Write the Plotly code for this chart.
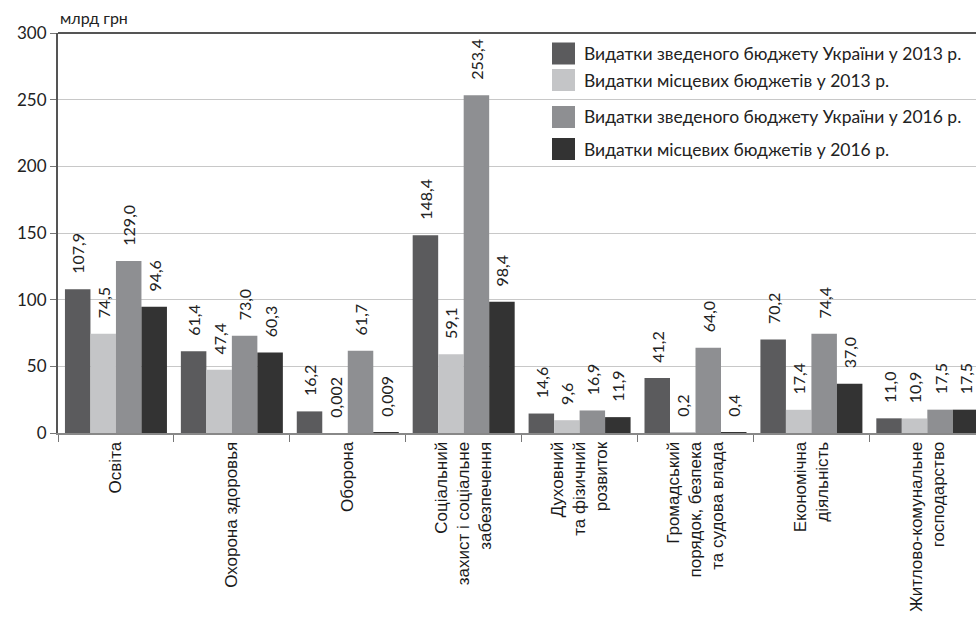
import plotly.graph_objects as go

categories = [
    "Освіта",
    "Охорона здоровья",
    "Оборона",
    "Соціальний<br>захист і соціальне<br>забезпечення",
    "Духовний<br>та фізичний<br>розвиток",
    "Громадський<br>порядок, безпека<br>та судова влада",
    "Економічна<br>діяльність",
    "Житлово-комунальне<br>господарство",
]

series_names = [
    "Видатки зведеного бюджету України у 2013 р.",
    "Видатки місцевих бюджетів у 2013 р.",
    "Видатки зведеного бюджету України у 2016 р.",
    "Видатки місцевих бюджетів у 2016 р.",
]

consolidated_2013 = [107.9, 61.4, 16.2, 148.4, 14.6, 41.2, 70.2, 11.0]
local_2013 = [74.5, 47.4, 0.002, 59.1, 9.6, 0.2, 17.4, 10.9]
consolidated_2016 = [129.0, 73.0, 61.7, 253.4, 16.9, 64.0, 74.4, 17.5]
local_2016 = [94.6, 60.3, 0.009, 98.4, 11.9, 0.4, 37.0, 17.5]

y_ticks = [0, 50, 100, 150, 200, 250, 300]

colors = ["#5b5b5d", "#c4c5c7", "#8e8f92", "#333333"]
series = [consolidated_2013, local_2013, consolidated_2016, local_2016]


def fmt(v):
    s = f"{v:.3f}" if v < 0.1 else f"{v:.1f}"
    return "\u00a0\u00a0\u00a0" + s.replace(".", ",")


W, H = 976, 629
ML, MR, MT, MB = 58, 0, 33, 196
PW, PH = W - ML - MR, H - MT - MB

fig = go.Figure()
for name, vals, col in zip(series_names, series, colors):
    fig.add_trace(go.Bar(
        x=categories, y=vals, name=name,
        marker=dict(color=col, line=dict(width=0)),
        text=[fmt(v) for v in vals],
        textposition="outside", textangle=-90,
        textfont=dict(family="Lato", size=16, color="#222222"),
        constraintext="none", cliponaxis=False,
        showlegend=False,
    ))


def px_x(p):
    return (p - ML) / PW


def px_y(p):
    return (MT + PH - p) / PH


shapes = []
annotations = []
# top frame line at 300
shapes.append(dict(type="line", xref="paper", yref="paper", x0=0, x1=1, y0=1, y1=1,
                   line=dict(color="#555555", width=2)))
# manual legend
leg_centers = [53.5, 80, 117, 149]
for name, col, cy in zip(series_names, colors, leg_centers):
    shapes.append(dict(type="rect", xref="paper", yref="paper",
                       x0=px_x(552), x1=px_x(575), y0=px_y(cy + 11), y1=px_y(cy - 11),
                       fillcolor=col, line=dict(width=0)))
    annotations.append(dict(xref="paper", yref="paper", x=px_x(582), y=px_y(cy),
                            xanchor="left", yanchor="middle", text=name, showarrow=False,
                            font=dict(family="Lato", size=17.5, color="#222222")))

annotations.append(dict(xref="paper", yref="paper", x=px_x(58), y=px_y(18),
                        xanchor="left", yanchor="middle", text="млрд грн", showarrow=False,
                        font=dict(family="Lato", size=16, color="#222222")))

fig.update_layout(
    width=W, height=H,
    margin=dict(l=ML, r=MR, t=MT, b=MB, pad=0),
    paper_bgcolor="white", plot_bgcolor="white",
    barmode="group", bargap=0.12, bargroupgap=0,
    shapes=shapes, annotations=annotations,
    xaxis=dict(
        range=[-0.5, 7.42], tickangle=-90, tickson="boundaries",
        ticks="outside", ticklen=7, tickcolor="#777777", tickwidth=1,
        showline=True, linecolor="#888888", linewidth=2,
        tickfont=dict(family="Liberation Sans", size=17, color="#1a1a1a"),
        showgrid=False,
    ),
    yaxis=dict(
        range=[0, 300], tickvals=y_ticks,
        ticks="outside", ticklen=6, tickcolor="#777777",
        showline=True, linecolor="#555555", linewidth=2,
        showgrid=True, gridcolor="#c8c8c8", gridwidth=1,
        zeroline=False,
        tickfont=dict(family="Lato", size=17, color="#222222"),
    ),
)

fig.write_html("out.html")
